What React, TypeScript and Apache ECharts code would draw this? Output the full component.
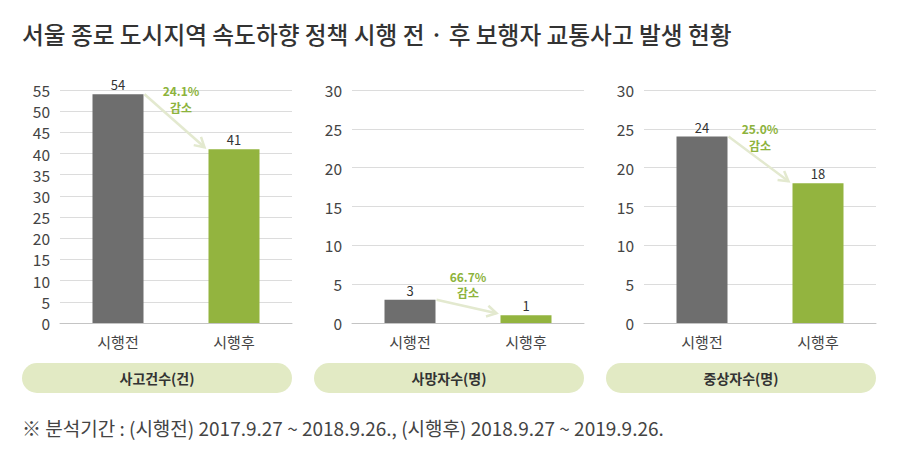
import React, { useEffect, useRef } from "react";
import * as echarts from "echarts";

const titleText = "서울 종로 도시지역 속도하향 정책 시행 전 · 후 보행자 교통사고 발생 현황";
const footnoteText = "※ 분석기간 : (시행전) 2017.9.27 ~ 2018.9.26., (시행후) 2018.9.27 ~ 2019.9.26.";
const categories = ["시행전", "시행후"];
const panelTitles = ["사고건수(건)", "사망자수(명)", "중상자수(명)"];
const accidents = [54, 41];
const deaths = [3, 1];
const injuries = [24, 18];
const reductionLabels = ["24.1%", "66.7%", "25.0%"];
const reductionWord = "감소";
const yMaxes = [55, 30, 30];
const yInterval = 5;

const FONT = "'Noto Sans CJK KR', 'Noto Sans', sans-serif";
const GRAY = "#6e6e6e";
const GREEN = "#93b43f";
const ANNOT = "#8db33c";
const ARROW = "#e3e9cf";
const PILL = "#e2eac4";

export default function App() {
  const ref = useRef<HTMLDivElement>(null);
  useEffect(() => {
    if (!ref.current) return;
    const chart = echarts.init(ref.current, null, { renderer: "svg" });
    const seriesValues = [accidents, deaths, injuries];
    const lefts = [60, 352, 644];
    const gridW = 232;
    const barW = 51;
    const option: any = {
      animation: false,
      grid: lefts.map((left) => ({ left, top: 90, width: gridW, height: 233 })),
      xAxis: lefts.map((_, i) => ({
        type: "category",
        gridIndex: i,
        data: categories,
        axisTick: { show: false },
        axisLine: { show: true, lineStyle: { color: "#c4c4c4", width: 1 } },
        axisLabel: { fontFamily: FONT, fontSize: 15, color: "#444", margin: 11 },
      })),
      yAxis: lefts.map((_, i) => ({
        type: "value",
        gridIndex: i,
        min: 0,
        max: yMaxes[i],
        interval: yInterval,
        axisLine: { show: false },
        axisTick: { show: false },
        splitLine: { lineStyle: { color: "#dcdcdc", width: 1 } },
        axisLabel: { fontFamily: FONT, fontSize: 15.5, lineHeight: 15, color: "#444", margin: 10 },
      })),
      series: seriesValues.map((vals, i) => ({
        type: "bar",
        xAxisIndex: i,
        yAxisIndex: i,
        barWidth: barW,
        data: vals.map((v, j) => ({ value: v, itemStyle: { color: j === 0 ? GRAY : GREEN } })),
        label: {
          show: true,
          position: "top",
          distance: 3,
          fontFamily: FONT,
          fontSize: 13,
          color: "#333",
        },
      })),
    };
    chart.setOption(option);

    const graphic: any[] = [];
    graphic.push({
      type: "text",
      left: 22,
      top: 22,
      style: { text: titleText, fontFamily: FONT, fontSize: 23.7, fill: "#333", fontWeight: 500 },
    });
    graphic.push({
      type: "text",
      left: 22,
      top: 418,
      style: { text: footnoteText, fontFamily: FONT, fontSize: 19, fill: "#444" },
    });

    seriesValues.forEach((vals, i) => {
      const p0 = chart.convertToPixel({ gridIndex: i }, [0, vals[0]]) as number[];
      const p1 = chart.convertToPixel({ gridIndex: i }, [1, vals[1]]) as number[];
      const sx = p0[0] + barW / 2 + 1;
      const sy = p0[1];
      const ex = p1[0] - barW / 2 - 4;
      const ey = p1[1] - 2;
      const dx = ex - sx;
      const dy = ey - sy;
      const len = Math.sqrt(dx * dx + dy * dy);
      const ux = dx / len;
      const uy = dy / len;
      const hl = 11;
      const ang = Math.PI / 6;
      const rot = (a: number) => [
        ex - hl * (ux * Math.cos(a) - uy * Math.sin(a)),
        ey - hl * (ux * Math.sin(a) + uy * Math.cos(a)),
      ];
      graphic.push({
        type: "line",
        shape: { x1: sx, y1: sy, x2: ex, y2: ey },
        style: { stroke: ARROW, lineWidth: 2.5 },
        z: 10,
      });
      graphic.push({
        type: "polyline",
        shape: { points: [rot(ang), [ex, ey], rot(-ang)] },
        style: { stroke: ARROW, lineWidth: 2.5, fill: null },
        z: 10,
      });
      const mx = (p0[0] + p1[0]) / 2 + (i === 0 ? 5 : 0);
      const my = (sy + ey) / 2;
      const annStyle = {
        fontFamily: FONT,
        fontSize: 12,
        fontWeight: "bold",
        fill: ANNOT,
        align: "center",
        verticalAlign: "middle",
      };
      graphic.push({
        type: "text",
        x: mx,
        y: my - 30,
        style: { ...annStyle, text: reductionLabels[i] },
        z: 11,
      });
      graphic.push({
        type: "text",
        x: mx,
        y: my - 13.5,
        style: { ...annStyle, text: reductionWord },
        z: 11,
      });
      const gl = lefts[i];
      const pl = gl - 38;
      const pw = gridW + 38;
      graphic.push({
        type: "rect",
        shape: { x: pl, y: 363, width: pw, height: 30, r: 15 },
        style: { fill: PILL },
      });
      graphic.push({
        type: "text",
        x: pl + pw / 2,
        y: 378,
        style: {
          text: panelTitles[i],
          fontFamily: FONT,
          fontSize: 14,
          fontWeight: "bold",
          fill: "#333",
          align: "center",
          verticalAlign: "middle",
        },
        z: 5,
      });
    });

    chart.setOption({ graphic });
    return () => chart.dispose();
  }, []);
  return (
    <div
      ref={ref}
      style={{ position: "fixed", left: 0, top: 0, width: 900, height: 461, background: "#fff" }}
    />
  );
}
